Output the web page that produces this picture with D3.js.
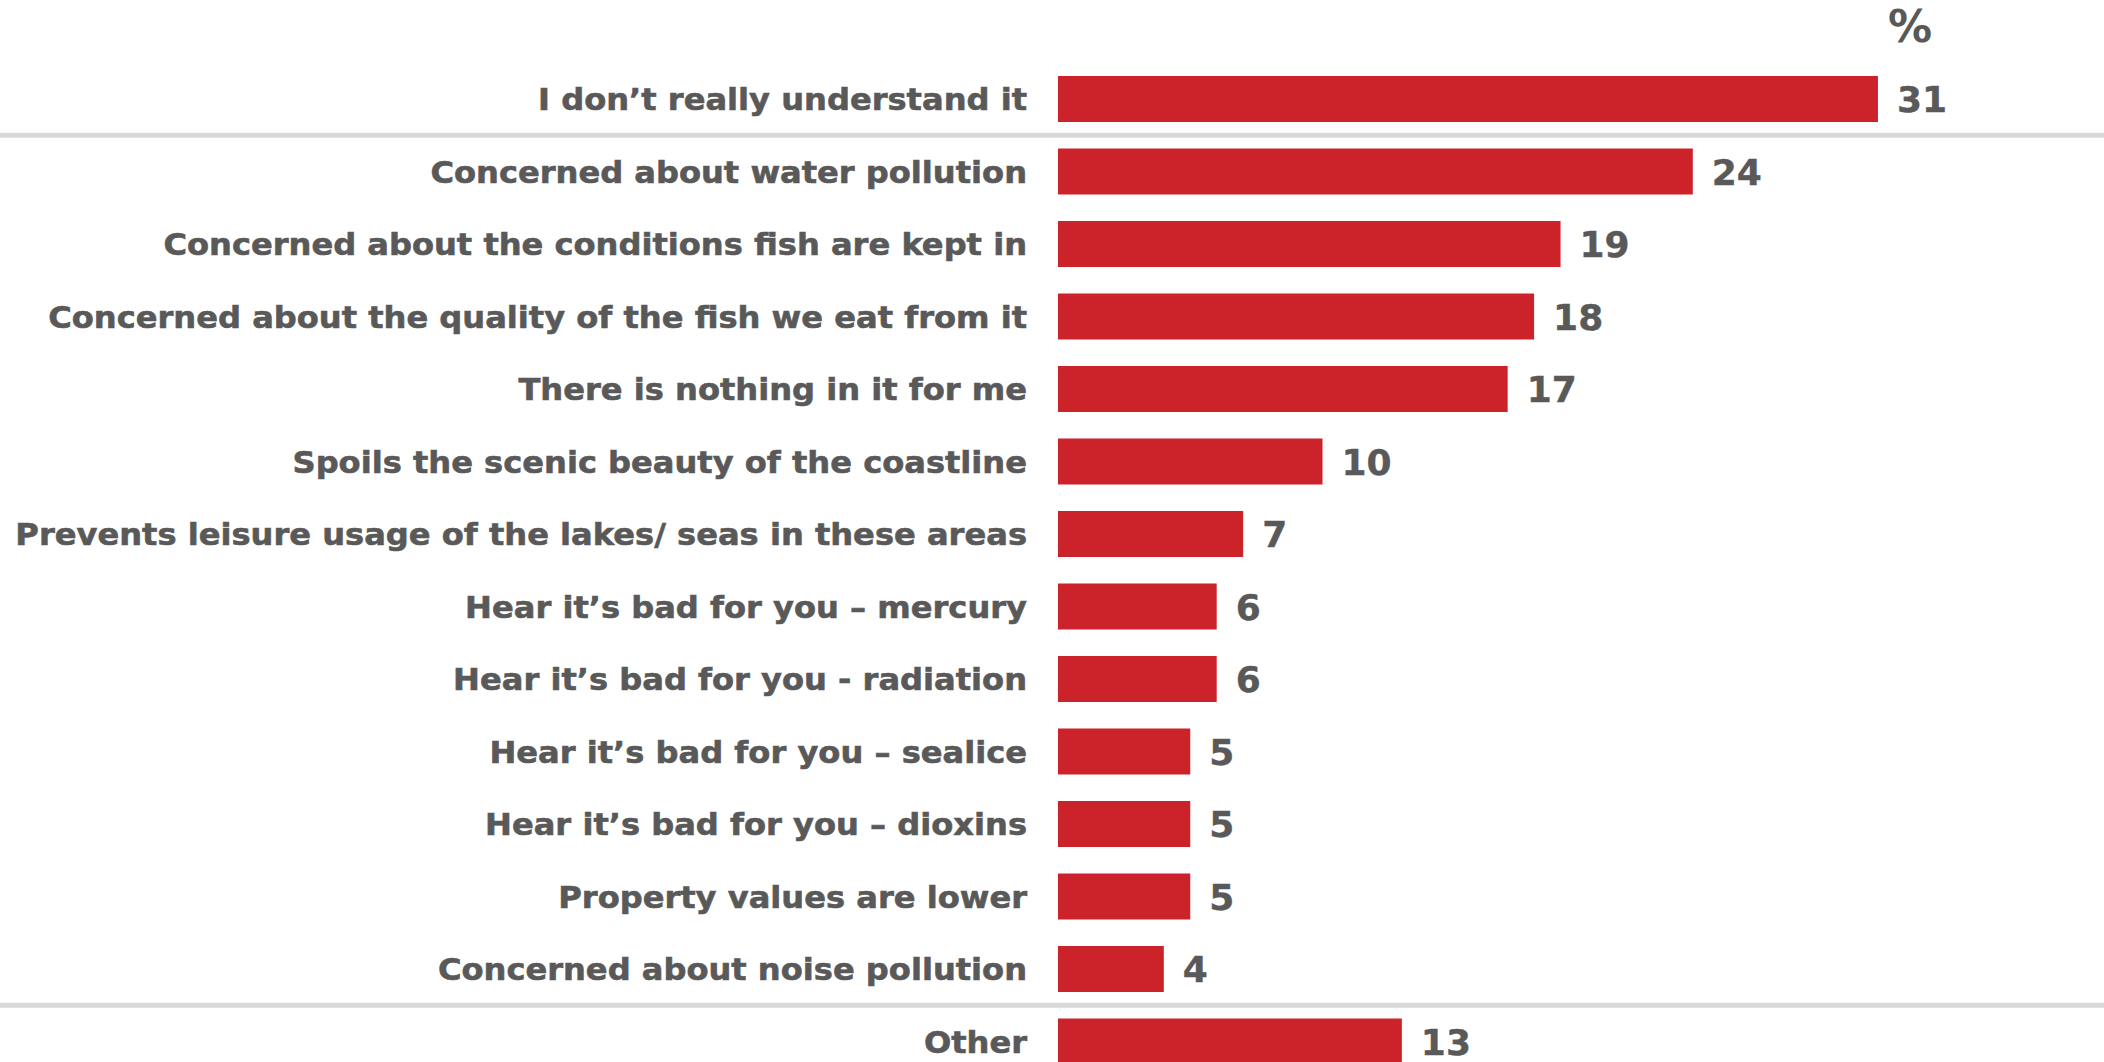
<!DOCTYPE html>
<html><head><meta charset="utf-8">
<script src="https://cdn.jsdelivr.net/npm/d3@7"></script>
<style>html,body{margin:0;padding:0;background:#fff;overflow:hidden}</style>
</head><body>
<svg id="chart" width="2104" height="1062"></svg>
<script>
const categories = [
  "I don\u2019t really understand it",
  "Concerned about water pollution",
  "Concerned about the conditions fish are kept in",
  "Concerned about the quality of the fish we eat from it",
  "There is nothing in it for me",
  "Spoils the scenic beauty of the coastline",
  "Prevents leisure usage of the lakes/ seas in these areas",
  "Hear it\u2019s bad for you \u2013 mercury",
  "Hear it\u2019s bad for you - radiation",
  "Hear it\u2019s bad for you \u2013 sealice",
  "Hear it\u2019s bad for you \u2013 dioxins",
  "Property values are lower",
  "Concerned about noise pollution",
  "Other"
];
const values = [31, 24, 19, 18, 17, 10, 7, 6, 6, 5, 5, 5, 4, 13];
const separatorsAfter = [0, 12];
const unitLabel = "%";

const W = 2104, H = 1062;
const x0 = 1058, pxPerUnit = 26.45;
const step = 72.5, bh = 46, top0 = 76;
const n = categories.length;
const svg = d3.select("#chart");
const x = d3.scaleLinear().domain([0, 31]).range([x0, x0 + 31 * pxPerUnit]);
const y = d3.scaleBand().domain(categories)
  .range([top0, top0 + (n - 1) * step + bh])
  .paddingInner(1 - bh / step).paddingOuter(0).align(0);

const txt = "#595959", red = "#CC232B";
const font = "'DejaVu Sans', Verdana, sans-serif";

// separators
separatorsAfter.forEach(i => {
  const yy = (y(categories[i]) + y.bandwidth() + y(categories[i + 1])) / 2;
  svg.append("rect").attr("x", 0).attr("y", yy - 2.5).attr("width", W).attr("height", 5).attr("fill", "#D9D9D9");
});

const g = svg.append("g");
g.selectAll("rect.bar").data(values).join("rect").attr("class", "bar")
  .attr("x", x(0)).attr("y", (d, i) => y(categories[i]))
  .attr("width", d => x(d) - x(0)).attr("height", y.bandwidth()).attr("fill", red);

const labelRight = 1027;
const lg = g.append("g");
lg.selectAll("text.cat").data(categories).join("text").attr("class", "cat")
  .attr("x", 0).attr("y", d => y(d) + y.bandwidth() / 2).attr("dy", "0.36em")
  .attr("text-anchor", "end").attr("font-family", font).attr("font-weight", "bold")
  .attr("font-size", 31).attr("fill", txt).attr("stroke", txt).attr("stroke-width", 0.6)
  .text(d => d);
// fit widest label so it starts near x=15 like the reference
let sx = 1;
lg.attr("transform", `translate(${labelRight},0) scale(${sx},1)`);
for (let k = 0; k < 3; k++) {
  const minLeft = d3.min(lg.selectAll("text.cat").nodes(), nd => nd.getBoundingClientRect().left);
  const w = labelRight - minLeft;
  if (w > 0) sx = sx * (labelRight - 15) / w;
  lg.attr("transform", `translate(${labelRight},0) scale(${sx},1)`);
}

g.selectAll("text.val").data(values).join("text").attr("class", "val")
  .attr("x", d => x(d) + 19).attr("y", (d, i) => y(categories[i]) + y.bandwidth() / 2).attr("dy", "0.37em")
  .attr("font-family", font).attr("font-weight", "bold")
  .attr("font-size", 36).attr("fill", txt).attr("stroke", txt).attr("stroke-width", 0.4)
  .text(d => d);

svg.append("text").attr("x", 1888).attr("y", 42).attr("font-family", font).attr("font-weight", "bold")
  .attr("font-size", 44).attr("fill", txt).text(unitLabel);
</script>
</body></html>
